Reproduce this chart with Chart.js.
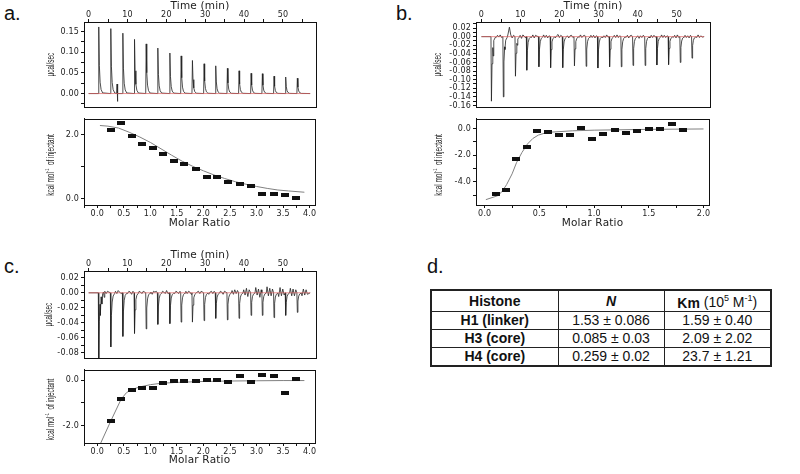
<!DOCTYPE html>
<html lang="en">
<head>
<meta charset="UTF-8">
<title>ITC titrations of histones</title>
<script src="https://cdn.jsdelivr.net/npm/chart.js"></script>
<style>
html, body { margin: 0; padding: 0; background: #fff; }
body { position: relative; width: 800px; height: 474px; overflow: hidden; font-family: "Liberation Sans", Arial, sans-serif; color: #111; }
canvas { position: absolute; }
.tag { position: absolute; font-size: 20px; line-height: 20px; }
#tbl { position: absolute; left: 430px; top: 289px; border-collapse: collapse; table-layout: fixed; border: 2px solid #222; font-size: 14px; color: #111; }
#tbl th, #tbl td { border: 1.5px solid #222; padding: 0; text-align: center; line-height: 15px; white-space: nowrap; }
#tbl th { height: 20px; font-weight: bold; }
#tbl td { height: 17px; }
#tbl td:first-child { font-weight: bold; }
#tbl sup { font-size: 9px; font-weight: normal; }
#tbl .unit { font-weight: normal; }
</style>
</head>
<body>
<div class="tag" style="left:4px;top:3px">a.</div>
<div class="tag" style="left:396px;top:3px">b.</div>
<div class="tag" style="left:4px;top:256px">c.</div>
<div class="tag" style="left:427px;top:256px">d.</div>

<canvas id="aTop" width="319" height="114" style="left:0;top:0"></canvas>
<canvas id="aBot" width="319" height="118" style="left:0;top:112px"></canvas>
<canvas id="bTop" width="321" height="114" style="left:392px;top:0"></canvas>
<canvas id="bBot" width="321" height="118" style="left:392px;top:112px"></canvas>
<canvas id="cTop" width="319" height="116" style="left:0;top:249px"></canvas>
<canvas id="cBot" width="319" height="104" style="left:0;top:363px"></canvas>

<table id="tbl">
  <colgroup><col style="width:127px"><col style="width:106px"><col style="width:107px"></colgroup>
  <thead>
    <tr><th>Histone</th><th><i>N</i></th><th>Km <span class="unit">(10<sup>5</sup> M<sup>-1</sup>)</span></th></tr>
  </thead>
  <tbody id="tblBody"></tbody>
</table>

<script>
// ---- panel a: H1 (linker) ----
const injTimesA = [2.6, 5.7, 8.8, 11.8, 14.8, 17.8, 20.9, 23.8, 26.7, 29.7, 32.7, 35.7, 38.7, 41.8, 44.7, 47.7, 50.7, 53.7];
const peakA = [0.161, 0.157, 0.146, 0.131, 0.120, 0.110, 0.098, 0.091, 0.080, 0.072, 0.067, 0.061, 0.055, 0.049, 0.048, 0.042, 0.040, 0.037];
const spikeA = [[7.2, 0.0], [7.3, 0.023], [7.4, -0.019], [7.5, 0.0]];
const ratioA = [0.25, 0.44, 0.65, 0.84, 1.04, 1.24, 1.44, 1.64, 1.85, 2.06, 2.26, 2.47, 2.69, 2.90, 3.11, 3.33, 3.54, 3.74];
const heatA = [2.15, 2.37, 1.95, 1.70, 1.60, 1.41, 1.17, 1.09, 0.93, 0.69, 0.69, 0.52, 0.45, 0.39, 0.16, 0.15, 0.12, 0.03];
const fitXA = [0.05, 0.2, 0.4, 0.6, 0.8, 1.0, 1.2, 1.4, 1.6, 1.8, 2.0, 2.2, 2.4, 2.6, 2.8, 3.0, 3.2, 3.4, 3.6, 3.9];
const fitYA = [2.29, 2.27, 2.21, 2.08, 1.93, 1.76, 1.56, 1.36, 1.17, 1.01, 0.87, 0.74, 0.63, 0.53, 0.45, 0.38, 0.32, 0.27, 0.24, 0.20];

// ---- panel b: H3 (core) ----
const injTimesB = [2.55, 5.6, 8.7, 11.6, 14.7, 17.7, 20.8, 23.8, 26.8, 29.8, 32.8, 35.8, 38.8, 41.9, 44.9, 47.9, 50.9, 53.9];
const peakB = [-0.150, -0.140, -0.092, -0.078, -0.070, -0.072, -0.072, -0.068, -0.069, -0.073, -0.070, -0.070, -0.067, -0.067, -0.066, -0.065, -0.060, -0.050];
const noiseB = [
  -0.002, 0.003, -0.001, 0.004, -0.002,   0.006, 0.022, 0.004, -0.003, 0.003,   0.003, -0.004, 0.004, 0.001, -0.003,
  -0.002, 0.004, -0.003, 0.003, 0.001,    0.004, -0.002, 0.003, -0.003, 0.002,   -0.003, 0.002, 0.005, -0.002, 0.003,
  0.002, -0.003, 0.002, 0.003, -0.002,    -0.002, 0.004, -0.002, 0.002, 0.003,   0.003, -0.002, 0.003, -0.003, 0.002,
  -0.003, 0.002, -0.002, 0.004, -0.001,   0.003, -0.002, 0.004, -0.002, 0.002,   -0.002, 0.003, -0.003, 0.002, 0.003,
  0.002, -0.004, 0.002, -0.002, 0.003,    -0.003, 0.003, -0.002, 0.003, -0.001,  0.004, -0.002, 0.003, -0.002, 0.002,
  -0.002, 0.003, -0.003, 0.004, -0.002,   0.003, -0.002, 0.002, -0.003, 0.003,   -0.002, 0.004, -0.002, 0.002, -0.001];
const shoulderB = [[3.0, -0.045], [6.0, -0.03], [9.2, -0.02]];
const ratioB = [0.10, 0.19, 0.29, 0.39, 0.48, 0.58, 0.68, 0.78, 0.88, 0.98, 1.08, 1.19, 1.29, 1.39, 1.50, 1.60, 1.71, 1.81];
const heatB = [-4.91, -4.63, -2.27, -1.36, -0.19, -0.26, -0.47, -0.49, 0.05, -0.79, -0.45, -0.14, -0.31, -0.19, -0.03, -0.07, 0.30, -0.12];
const fitXB = [0.01, 0.12, 0.16, 0.2, 0.25, 0.29, 0.34, 0.39, 0.44, 0.49, 0.55, 0.6, 0.8, 1.0, 1.5, 2.0];
const fitYB = [-5.33, -5.03, -4.70, -4.20, -3.40, -2.57, -1.80, -1.17, -0.75, -0.50, -0.35, -0.28, -0.18, -0.13, -0.07, -0.04];

// ---- panel c: H4 (core) ----
const injTimesC = [2.6, 5.7, 8.8, 11.8, 14.8, 17.8, 20.9, 23.8, 26.7, 29.7, 32.7, 35.7, 38.7, 41.8, 44.7, 47.7, 50.7, 53.7];
const peakC = [-0.090, -0.072, -0.058, -0.054, -0.048, -0.042, -0.041, -0.039, -0.039, -0.037, -0.034, -0.036, -0.034, -0.030, -0.030, -0.033, -0.030, -0.026];
const noiseC = [
  0.001, 0.002, -0.001, 0.002, 0.001,     0.002, -0.001, 0.003, 0.001, -0.001,   -0.001, 0.002, 0.001, -0.002, 0.002,
  0.002, 0.001, -0.001, 0.002, 0.001,     0.001, -0.002, 0.002, 0.001, 0.002,    0.002, 0.001, -0.001, 0.003, -0.001,
  -0.001, 0.002, 0.001, -0.001, 0.002,    0.002, -0.001, 0.002, 0.001, -0.002,   0.001, 0.002, -0.001, 0.002, 0.001,
  -0.002, 0.001, 0.002, -0.001, 0.002,    0.002, 0.001, -0.002, 0.002, 0.001,    0.003, -0.002, 0.004, -0.001, 0.003,
  0.004, -0.003, 0.006, -0.005, 0.004,    0.007, -0.003, 0.005, -0.006, 0.004,   0.008, -0.004, 0.006, -0.004, 0.005,
  -0.005, 0.007, -0.004, 0.005, -0.003,   0.006, -0.004, 0.005, -0.004, 0.004,   -0.004, 0.005, -0.003, 0.004, -0.002];
const shoulderC = [[3.0, -0.03], [3.4, -0.015], [4.0, -0.006]];
const ratioC = [0.25, 0.44, 0.65, 0.84, 1.04, 1.24, 1.44, 1.64, 1.85, 2.06, 2.26, 2.47, 2.69, 2.90, 3.11, 3.33, 3.54, 3.74];
const heatC = [-1.81, -0.83, -0.43, -0.35, -0.36, -0.13, -0.04, -0.04, -0.05, -0.01, -0.01, -0.07, 0.19, -0.10, 0.24, 0.19, -0.55, 0.05];
const fitXC = [0.05, 0.25, 0.45, 0.55, 0.65, 0.8, 1.0, 1.2, 1.5, 2.0, 2.5, 3.0, 3.5, 3.9];
const fitYC = [-2.83, -1.81, -0.83, -0.55, -0.41, -0.30, -0.20, -0.14, -0.10, -0.06, -0.04, -0.03, -0.02, -0.02];

// ---- panel d: table ----
const histones = ['H1 (linker)', 'H3 (core)', 'H4 (core)'];
const nValues = ['1.53 ± 0.086', '0.085 ± 0.03', '0.259 ± 0.02'];
const kmValues = ['1.59 ± 0.40', '2.09 ± 2.02', '23.7 ± 1.21'];

// shape of one injection peak (time offset in min, fraction of peak height)
const peakShape = [[-0.12, 0], [0, 1], [0.15, 0.42], [0.35, 0.17], [0.6, 0.06], [1.0, 0.01]];
const noiseAt = [1.2, 1.55, 1.9, 2.25, 2.6];
const TRACE_END = 57;

const tbody = document.getElementById('tblBody');
histones.forEach((h, i) => {
  const tr = document.createElement('tr');
  [h, nValues[i], kmValues[i]].forEach((txt) => {
    const td = document.createElement('td');
    td.textContent = txt;
    tr.appendChild(td);
  });
  tbody.appendChild(tr);
});

function buildTrace(times, peaks, noise, extra) {
  const pts = [{x: 0, y: 0}];
  times.forEach((t, i) => {
    peakShape.forEach(([dt, f]) => pts.push({x: t + dt, y: peaks[i] * f}));
    if (noise) noiseAt.forEach((dt, k) => pts.push({x: t + dt, y: noise[i * noiseAt.length + k]}));
  });
  (extra || []).forEach(([x, y]) => pts.push({x, y}));
  pts.push({x: TRACE_END, y: 0});
  return pts.sort((p, q) => p.x - q.x);
}

// label only the major ticks; ticks are placed on multiples of the step
function majorOnly(step, major, digits) {
  return (v) => {
    const k = v / major;
    return Math.abs(k - Math.round(k)) < 1e-6 ? (Math.abs(v) < 1e-9 ? 0 : v).toFixed(digits) : '';
  };
}

function axis(position, min, max, step, major, digits, size, title) {
  return {
    type: 'linear', position, min, max,
    afterFit: (s) => { if (s.isHorizontal()) s.height = size; else s.width = size; },
    afterBuildTicks: (s) => {
      // keep ticks on round multiples of the step inside the range
      const ticks = [];
      for (let v = Math.ceil(min / step - 1e-9) * step; v <= max + 1e-9; v += step) {
        ticks.push({value: Math.round(v / step) * step});
      }
      s.ticks = ticks;
    },
    border: {display: true, color: '#111', width: 1},
    grid: {display: true, drawOnChartArea: false, drawTicks: true, tickLength: 3, color: '#111', lineWidth: 1},
    ticks: {
      stepSize: step, includeBounds: false, autoSkip: false, maxRotation: 0, minRotation: 0,
      padding: position === 'left' ? 2 : (position === 'top' ? -1 : 1), color: '#222',
      font: {family: 'DejaVu Sans', size: 8},
      callback: majorOnly(step, major, digits)
    },
    title: title
      ? {display: true, text: title, color: '#222', padding: 0, font: {family: 'DejaVu Sans', size: 10.5}}
      : {display: false}
  };
}

// marker: small wide black bar
const mark = document.createElement('canvas');
mark.width = 8; mark.height = 4;
const mctx = mark.getContext('2d');
mctx.fillStyle = '#111';
mctx.fillRect(0, 0, 8, 4);

const framePlugin = {
  id: 'frame',
  afterDraw(chart) {
    const {ctx, chartArea: a} = chart;
    ctx.save();
    ctx.strokeStyle = '#111';
    ctx.lineWidth = 1;
    ctx.strokeRect(Math.round(a.left) + 0.5, Math.round(a.top) + 0.5, Math.round(a.right - a.left), Math.round(a.bottom - a.top));
    ctx.restore();
  }
};

const spacingPlugin = {
  id: 'spacing',
  beforeDraw(chart) { chart.ctx.letterSpacing = '0.2px'; }
};

const sideTitlePlugin = {
  id: 'sideTitle',
  afterDraw(chart, args, opts) {
    if (!opts.parts) return;
    const {ctx, chartArea: a} = chart;
    const cy = (a.top + a.bottom) / 2 + (opts.dy || 0);
    const parts = Array.from(opts.parts);
    ctx.save();
    ctx.letterSpacing = '0px';
    ctx.translate(opts.x, cy);
    ctx.rotate(-Math.PI / 2);
    ctx.scale(opts.squeeze, 1);
    ctx.fillStyle = '#222';
    ctx.textBaseline = 'middle';
    const fonts = parts.map((p) => (p.sup ? opts.size * 0.62 : opts.size) + 'px "Liberation Sans", Arial, sans-serif');
    const widths = parts.map((p, i) => { ctx.font = fonts[i]; return ctx.measureText(p.text).width; });
    let x = -widths.reduce((s, w) => s + w, 0) / 2;
    parts.forEach((p, i) => {
      ctx.font = fonts[i];
      ctx.fillText(p.text, x, p.sup ? -opts.size * 0.38 : 0);
      x += widths[i];
    });
    ctx.restore();
  }
};

Chart.register(framePlugin, spacingPlugin, sideTitlePlugin);

const heatTitle = [{text: 'kcal mol'}, {text: '-1', sup: true}, {text: '  of injectant'}];

function baseOptions(padding, scales, side) {
  return {
    responsive: false,
    animation: false,
    events: [],
    layout: {padding},
    plugins: {legend: {display: false}, tooltip: {enabled: false}, sideTitle: side},
    scales
  };
}

function rawChart(id, times, peaks, noise, extra, tMin, tMax, yMin, yMax, yStep, yMajor, sideX) {
  new Chart(document.getElementById(id), {
    type: 'scatter',
    data: {
      datasets: [
        {data: [{x: 0, y: 0}, {x: TRACE_END, y: 0}], showLine: true, borderColor: '#e06262', borderWidth: 0.7, pointRadius: 0},
        {data: buildTrace(times, peaks, noise, extra), showLine: true, borderColor: '#222', borderWidth: 0.8, pointRadius: 0}
      ]
    },
    options: baseOptions({left: 0, right: 3, top: 0, bottom: 1}, {
      x: axis('top', tMin, tMax, 5, 10, 0, 22, 'Time (min)'),
      y: axis('left', yMin, yMax, yStep, yMajor, 2, 84)
    }, {parts: [{text: 'µcal/sec'}], x: sideX, size: 10, squeeze: 0.64})
  });
}

function heatChart(id, ratios, heats, fitX, fitY, xMin, xMax, yMin, yMax, sideX, axisH) {
  new Chart(document.getElementById(id), {
    type: 'scatter',
    data: {
      datasets: [
        {data: ratios.map((x, i) => ({x, y: heats[i]})), pointStyle: mark, pointRadius: 4, borderWidth: 0, backgroundColor: '#111'},
        {data: fitX.map((x, i) => ({x, y: fitY[i]})), showLine: true, borderColor: '#808080', borderWidth: 1, pointRadius: 0}
      ]
    },
    options: baseOptions({left: 0, right: 3, top: 1, bottom: 0}, {
      x: axis('bottom', xMin, xMax, 0.25, 0.5, 1, axisH, 'Molar Ratio'),
      y: axis('left', yMin, yMax, 1, 2, 1, 84)
    }, {parts: heatTitle, x: sideX, size: 10, squeeze: 0.64, dy: 3})
  });
}

rawChart('aTop', injTimesA, peakA, null, spikeA, -1.2, 58.5, -0.033, 0.173, 0.025, 0.05, 51);
heatChart('aBot', ratioA, heatA, fitXA, fitYA, -0.25, 4.1, -0.2, 2.5, 51, 25);

rawChart('bTop', injTimesB, peakB, noiseB, shoulderB, -1.4, 58.5, -0.164, 0.034, 0.01, 0.02, 46);
heatChart('bBot', ratioB, heatB, fitXB, fitYB, -0.08, 2.05, -5.73, 0.72, 47, 25);

rawChart('cTop', injTimesC, peakC, noiseC, shoulderC, -1.2, 58.5, -0.087, 0.029, 0.01, 0.02, 49);
heatChart('cBot', ratioC, heatC, fitXC, fitYC, -0.25, 4.1, -2.75, 0.45, 51, 24);
</script>
</body>
</html>
